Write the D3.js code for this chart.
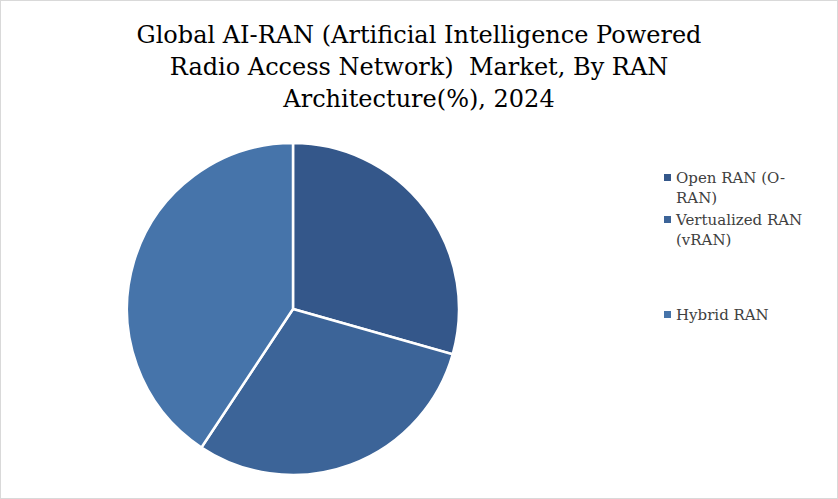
<!DOCTYPE html>
<html><head><meta charset="utf-8">
<script src="https://cdn.jsdelivr.net/npm/d3@7"></script>
<style>body{margin:0;background:#fff}svg{font-family:"DejaVu Serif",serif}</style>
</head><body>
<script>
var categories = ['Open RAN (O-RAN)', 'Vertualized RAN (vRAN)', 'Hybrid RAN'];
var values = [29.4, 29.9, 40.7];
var colors = ['#34578a', '#3c6498', '#4674aa'];
var legendLines = [['Open RAN (O-', 'RAN)'], ['Vertualized RAN', '(vRAN)'], ['Hybrid RAN']];

var w = 838, h = 499;
var svg = d3.select('body').append('svg').attr('width', w).attr('height', h);
svg.append('rect').attr('x', 0.5).attr('y', 0.5).attr('width', w - 1).attr('height', h - 1)
  .attr('fill', '#fff').attr('stroke', '#d9d9d9');

var title = ['Global AI-RAN (Artificial Intelligence Powered', 'Radio Access Network)  Market, By RAN', 'Architecture(%), 2024'];
svg.selectAll('text.title').data(title).enter().append('text')
  .attr('class', 'title').attr('x', 419).attr('y', function(d, i) { return 43 + i * 32; })
  .attr('text-anchor', 'middle').style('font-size', '24px').style('fill', '#000')
  .style('white-space', 'pre').text(function(d) { return d; });

var pie = d3.pie().sort(null).value(function(d) { return d; });
var arc = d3.arc().innerRadius(0).outerRadius(166);
var g = svg.append('g').attr('transform', 'translate(293,309)');
g.selectAll('path').data(pie(values)).enter().append('path')
  .attr('d', arc).attr('fill', function(d, i) { return colors[i]; })
  .attr('stroke', '#fff').attr('stroke-width', 2.5);

var ys = [178, 220, 315];
var lg = svg.selectAll('g.leg').data(categories).enter().append('g')
  .attr('transform', function(d, i) { return 'translate(664,' + ys[i] + ')'; });
lg.append('rect').attr('x', 0).attr('y', -4).attr('width', 7).attr('height', 7)
  .attr('fill', function(d, i) { return colors[i]; });
lg.each(function(d, i) {
  var t = d3.select(this).append('text').style('font-size', '15px').style('fill', '#404040');
  legendLines[i].forEach(function(s, j) {
    t.append('tspan').attr('x', 12).attr('y', 5 + j * 20).text(s);
  });
});
</script>
</body></html>
